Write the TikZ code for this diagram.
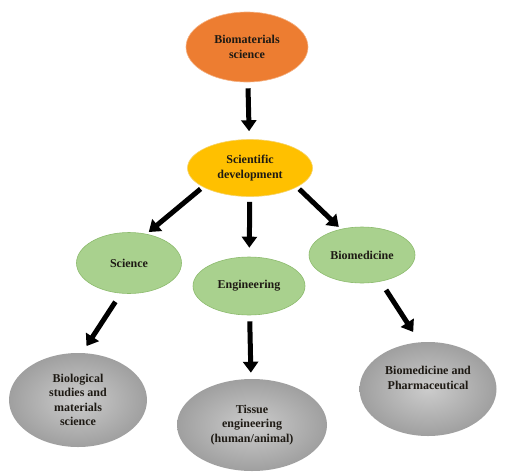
\documentclass[tikz,border=0pt]{standalone}
\usepackage{fontspec}
\setmainfont{Liberation Serif}
\usetikzlibrary{shapes.geometric,arrows.meta}
\definecolor{orng}{HTML}{ED7D31}
\definecolor{orngb}{HTML}{F4B183}
\definecolor{yel}{HTML}{FFC000}
\definecolor{yelb}{HTML}{F5D36B}
\definecolor{grn}{HTML}{A9D18E}
\definecolor{grnb}{HTML}{8DBB6E}
\definecolor{txt}{HTML}{1E1A14}
\begin{document}
\begin{tikzpicture}[x=1pt,y=-1pt,
  bub/.style={ellipse,inner sep=0pt,align=center,font=\bfseries\fontsize{12}{14.4}\selectfont,text=txt,line width=0.6pt},
  fat/.style={line width=5pt,-{Triangle[width=15pt,length=11pt]},black}]
\useasboundingbox (0,0) rectangle (508,472);
\node[bub,fill=orng,draw=orngb,minimum width=122pt,minimum height=70pt] (bio) at (247,47) {Biomaterials\\science};
\node[bub,fill=yel,draw=yelb,minimum width=125pt,minimum height=57pt] (sd) at (250,168) {Scientific\\development};
\node[bub,fill=grn,draw=grnb,minimum width=105pt,minimum height=61pt] (sci) at (129,263) {Science};
\node[bub,fill=grn,draw=grnb,minimum width=112pt,minimum height=58pt] (eng) at (249,286) {Engineering};
\node[bub,fill=grn,draw=grnb,minimum width=106pt,minimum height=56pt] (bmed) at (362,255) {Biomedicine};
\node[bub,inner color=gray!40,outer color=gray!75,minimum width=138pt,minimum height=94pt] (bsm) at (78,400) {Biological\\studies and\\materials\\science};
\node[bub,inner color=gray!40,outer color=gray!75,minimum width=150pt,minimum height=92pt] (te) at (252,425) {Tissue\\engineering\\(human/animal)};
\node[bub,inner color=gray!40,outer color=gray!75,minimum width=137pt,minimum height=94pt] (bp) at (428,389) {Biomedicine and\\Pharmaceutical\\[8pt]};
\draw[fat,shorten <=6pt,shorten >=8pt] (bio) -- (sd);
\draw[fat,shorten <=3pt,shorten >=3pt] (sd.202) -- (sci.59);
\draw[fat,shorten <=5pt,shorten >=9pt] (sd) -- (eng);
\draw[fat,shorten <=3pt,shorten >=3pt] (sd.-22) -- (bmed.129);
\draw[fat,shorten <=10pt,shorten >=8pt] (sci.-105) -- (bsm.85);
\draw[fat,shorten <=6pt,shorten >=6pt] (eng) -- (te);
\draw[fat,shorten <=10pt,shorten >=12pt] (bmed.-55) -- (bp.100);
\end{tikzpicture}
\end{document}
